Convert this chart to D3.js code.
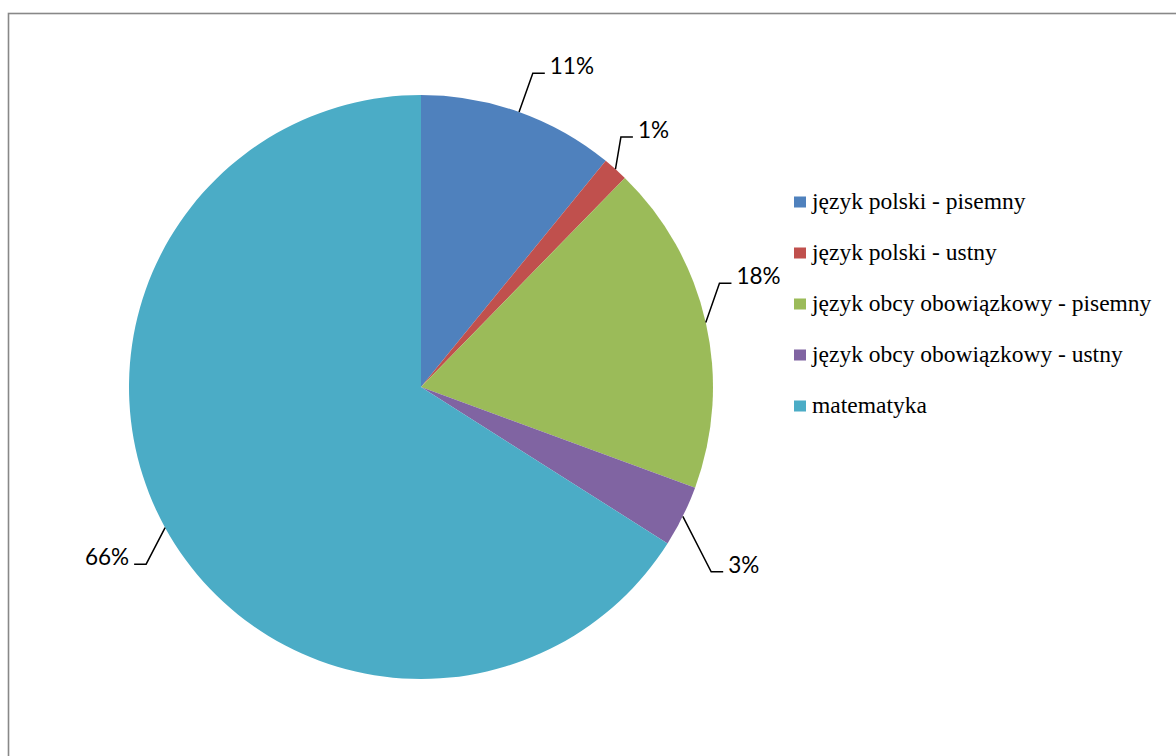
<!DOCTYPE html>
<html>
<head>
<meta charset="utf-8">
<script src="https://cdn.jsdelivr.net/npm/d3@7"></script>
<style>
  html, body { margin: 0; padding: 0; background: #fff; }
  svg { display: block; }
  .legend-text { font-family: "Liberation Serif", "Times New Roman", Tinos, "DejaVu Serif", serif; }
</style>
</head>
<body>
<svg id="chart" width="1176" height="756"></svg>
<script>
// ---- data ----
const categories = [
  "język polski - pisemny",
  "język polski - ustny",
  "język obcy obowiązkowy - pisemny",
  "język obcy obowiązkowy - ustny",
  "matematyka"
];
const values = [10.9, 1.4, 18.3, 3.4, 66.0];
const percentLabels = ["11%", "1%", "18%", "3%", "66%"];
const colors = ["#4F81BD", "#C0504D", "#9BBB59", "#8064A2", "#4BACC6"];

// ---- layout (label placement tweaks, degrees / px) ----
const labelAngleNudge = [0, -3.1, -6.4, 6.2, -4.0];
const labelElbowRadius = [333, 320, 316, 344, 327];

const svg = d3.select("#chart");
const cx = 421, cy = 387, R = 292;

// frame border
svg.append("rect")
  .attr("x", 8.5).attr("y", 13.5)
  .attr("width", 1200).attr("height", 800)
  .attr("fill", "#fff")
  .attr("stroke", "#888").attr("stroke-width", 1.6);

const pie = d3.pie().sort(null).value(d => d)(values);
const arc = d3.arc().innerRadius(0).outerRadius(R);

const g = svg.append("g").attr("transform", `translate(${cx},${cy})`);
g.selectAll("path.slice")
  .data(pie)
  .join("path")
  .attr("class", "slice")
  .attr("d", arc)
  .attr("fill", (d, i) => colors[i]);

// labels with leader lines
const polar = (ang, r) => [r * Math.sin(ang), -r * Math.cos(ang)];
pie.forEach((d, i) => {
  const mid = (d.startAngle + d.endAngle) / 2;
  const p0 = polar(mid, R);
  const p1 = polar(mid + labelAngleNudge[i] * Math.PI / 180, labelElbowRadius[i]);
  const right = p1[0] > 0;
  const p2 = [p1[0] + (right ? 12 : -12), p1[1]];
  g.append("path")
    .attr("d", d3.line()([p0, p1, p2]))
    .attr("fill", "none")
    .attr("stroke", "#000")
    .attr("stroke-width", 1.5);
  g.append("text")
    .attr("x", p2[0] + (right ? 5 : -5))
    .attr("y", p2[1] + 1)
    .attr("text-anchor", right ? "start" : "end")
    .attr("font-family", "Lato, 'Open Sans', sans-serif")
    .attr("font-size", 22.5)
    .attr("fill", "#000")
    .text(percentLabels[i]);
});

// legend
const legend = svg.append("g").attr("transform", "translate(794,202)");
const rowH = 51;
categories.forEach((c, i) => {
  const row = legend.append("g").attr("transform", `translate(0,${i * rowH})`);
  row.append("rect")
    .attr("x", 0).attr("y", -5.5)
    .attr("width", 12).attr("height", 11)
    .attr("fill", colors[i]);
  row.append("text")
    .attr("class", "legend-text")
    .attr("x", 18).attr("y", 7)
    .attr("font-size", 23.5)
    .attr("fill", "#000")
    .text(c);
});
</script>
</body>
</html>
